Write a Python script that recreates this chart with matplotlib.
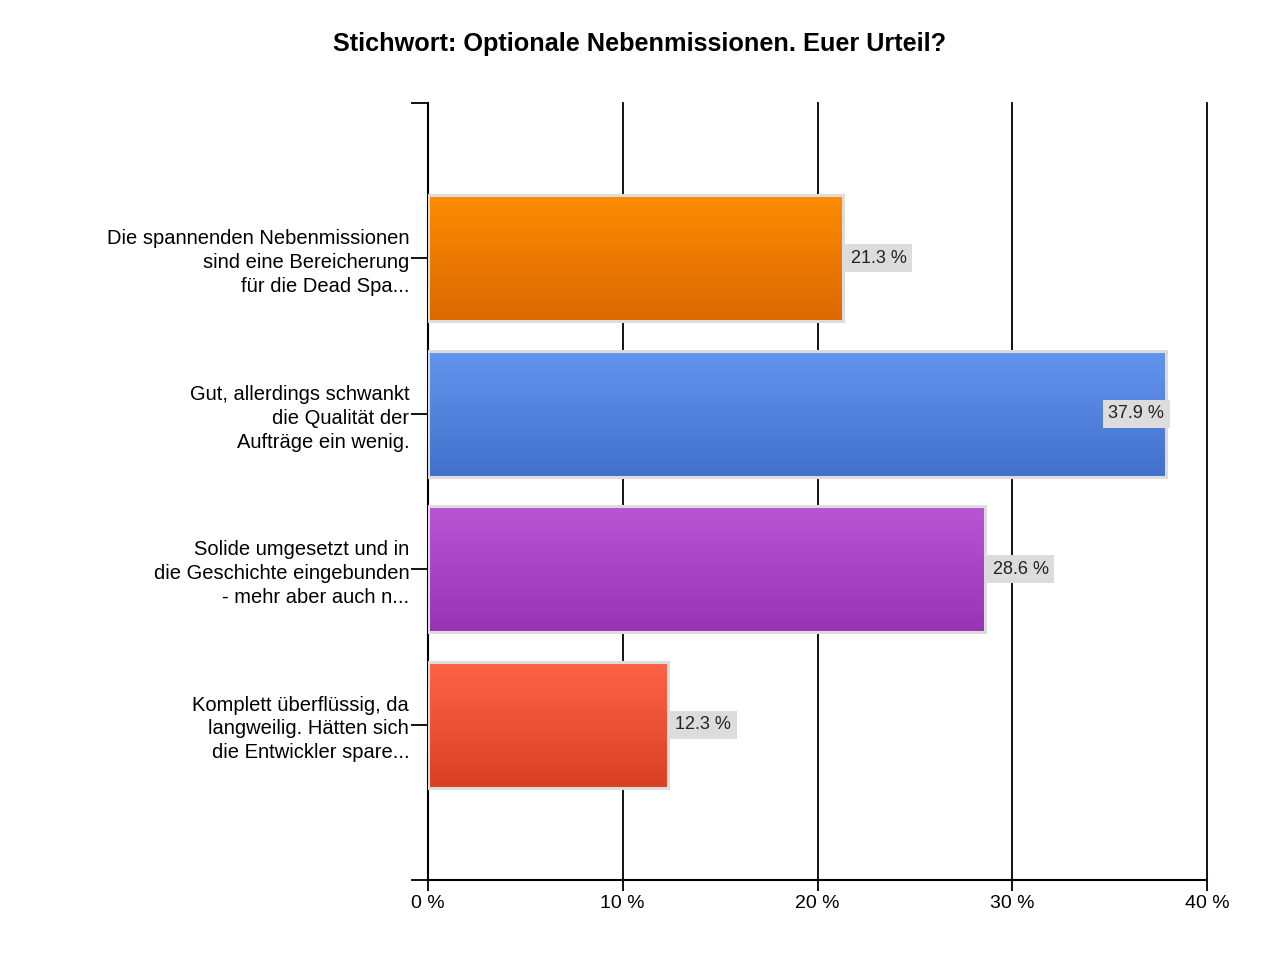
import numpy as np
import matplotlib
matplotlib.use("Agg")
import matplotlib.pyplot as plt
from matplotlib.colors import LinearSegmentedColormap
from matplotlib.patches import Rectangle

plt.rcParams["font.family"] = ["Liberation Sans", "DejaVu Sans"]

# =========================
# Data
# =========================
title = "Stichwort: Optionale Nebenmissionen. Euer Urteil?"
categories = [
    "Die spannenden Nebenmissionen\nsind eine Bereicherung\nfür die Dead Spa...",
    "Gut, allerdings schwankt\ndie Qualität der\nAufträge ein wenig.",
    "Solide umgesetzt und in\ndie Geschichte eingebunden\n- mehr aber auch n...",
    "Komplett überflüssig, da\nlangweilig. Hätten sich\ndie Entwickler spare...",
]
values = [21.3, 37.9, 28.6, 12.3]
x_ticks = [0, 10, 20, 30, 40]
x_tick_labels = ["0 %", "10 %", "20 %", "30 %", "40 %"]

# gradient colours (top, bottom) per bar
grad_colors = [
    ("#FF8C00", "#DA6800"),
    ("#6495ED", "#4270CC"),
    ("#BA55D3", "#9634B4"),
    ("#FF6347", "#D94022"),
]

# =========================
# Figure
# =========================
fig = plt.figure(figsize=(12.8, 9.6), dpi=100)
ax = fig.add_axes([428 / 1280, 1 - 880 / 960, (1207 - 428) / 1280, (880 - 103) / 960])

bar_h = 0.81
positions = np.arange(1, len(values) + 1)

# grid lines behind bars
for xt in x_ticks[1:]:
    ax.axvline(xt, color="black", lw=1.3, zorder=0, clip_on=False)

for pos, val, (c_top, c_bot) in zip(positions, values, grad_colors):
    cmap = LinearSegmentedColormap.from_list("g", [c_top, c_bot])
    grad = np.linspace(0, 1, 256).reshape(-1, 1)
    ax.imshow(grad, cmap=cmap, aspect="auto", zorder=2,
              extent=[0, val, pos + bar_h / 2, pos - bar_h / 2])
    ax.add_patch(Rectangle((0, pos - bar_h / 2), val, bar_h, fill=False,
                           edgecolor="#DCDCDC", lw=2.2, zorder=3))

    label = f"{val:.1f} %"
    if val > 35:
        ax.text(val - 0.1, pos, label, ha="right", va="center", fontsize=13,
                color="#222222", zorder=4,
                bbox=dict(boxstyle="square,pad=0.3", fc="#DCDCDC", ec="none"))
    else:
        ax.text(val + 0.4, pos, label, ha="left", va="center", fontsize=13,
                color="#222222", zorder=4,
                bbox=dict(boxstyle="square,pad=0.3", fc="#DCDCDC", ec="none"))

ax.set_xlim(0, 40)
ax.set_ylim(5, 0)

ax.set_xticks(x_ticks)
ax.set_xticklabels(x_tick_labels, fontsize=14)
ax.set_yticks([0] + list(positions) + [5])
ax.set_yticklabels([""] + categories + [""], fontsize=14.5, linespacing=1.32)

ax.tick_params(axis="y", length=12, width=1.3, pad=1.5)
ax.tick_params(axis="x", length=8, width=1.3, pad=3)

for side in ["top", "right"]:
    ax.spines[side].set_visible(False)
ax.spines["left"].set_linewidth(1.5)
ax.spines["bottom"].set_linewidth(1.5)

fig.suptitle(title, fontsize=18.2, fontweight="bold", y=1 - 44 / 960, va="center")

plt.savefig("out.png", dpi=100)
